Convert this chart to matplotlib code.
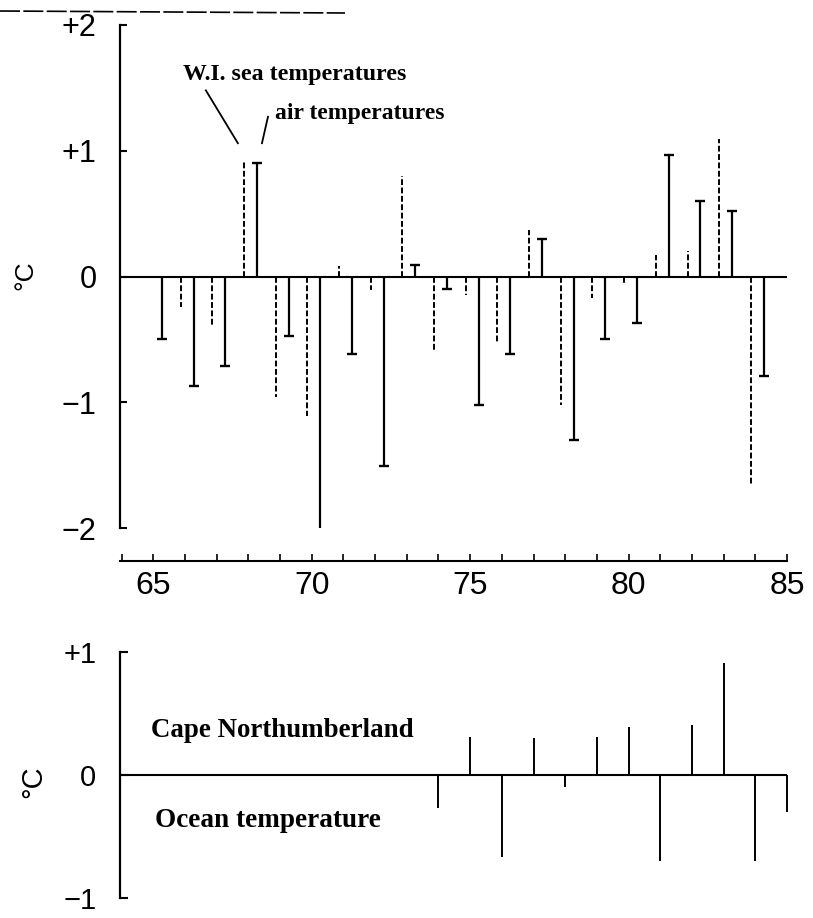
import numpy as np
import matplotlib
matplotlib.use("Agg")
import matplotlib.pyplot as plt
from matplotlib.lines import Line2D
from matplotlib.ticker import MultipleLocator, FixedLocator

# top panel: anomalies, West Iceland sea (dashed) and air (solid)
years = [65, 66, 67, 68, 69, 70, 71, 72, 73, 74,
         75, 76, 77, 78, 79, 80, 81, 82, 83, 84]
sea_anom = [np.nan, -0.24, -0.39, 0.92, -0.96, -1.11, 0.08, -0.11, 0.80, -0.59,
            -0.15, -0.52, 0.37, -1.02, -0.17, -0.07, 0.17, 0.20, 1.09, -1.66]
air_anom = [-0.50, -0.87, -0.71, 0.90, -0.47, -2.02, -0.62, -1.51, 0.09, -0.10,
            -1.02, -0.62, 0.30, -1.30, -0.50, -0.37, 0.97, 0.60, 0.52, -0.79]

# bottom panel: Cape Northumberland ocean temperature
cape_years = [74, 75, 76, 77, 78, 79, 80, 81, 82, 83, 84, 85]
cape_anom = [-0.27, 0.31, -0.67, 0.30, -0.10, 0.31, 0.39, -0.70, 0.41, 0.91, -0.70, -0.30]

top_ticks = [2, 1, 0, -1, -2]
top_ticklabels = ["+2", "+1", "0", "\u22121", "\u22122"]
bot_ticks = [1, 0, -1]
bot_ticklabels = ["+1", "0", "\u22121"]

SEA_SHIFT = -0.14
AIR_SHIFT = 0.27
XMIN, XMAX = 63.95, 85.0

sans = ["Liberation Sans", "DejaVu Sans"]
serif = ["Liberation Serif", "DejaVu Serif"]

fig = plt.figure(figsize=(8.13, 9.18), dpi=100)
W, H = 813, 918


def px_axes(x0, y0, x1, y1):
    return fig.add_axes([x0 / W, 1 - y1 / H, (x1 - x0) / W, (y1 - y0) / H])


# ---------- top panel ----------
ax = px_axes(120, 25, 787, 528)
ax.set_xlim(XMIN, XMAX)
ax.set_ylim(-2, 2)

yrs = np.array(years, dtype=float)
ax.vlines(yrs + SEA_SHIFT, 0, sea_anom, colors="black", lw=1.4,
          linestyles=(0, (3, 1.3)))
ax.vlines(yrs + AIR_SHIFT, 0, air_anom, colors="black", lw=1.6)
ax.plot(yrs + AIR_SHIFT, air_anom, ls="none", marker="_", ms=6.5,
        mew=1.7, color="black")
ax.axhline(0, color="black", lw=1.5)

for s in ["top", "right"]:
    ax.spines[s].set_visible(False)
ax.spines["left"].set_linewidth(1.6)
ax.spines["left"].set_bounds(-2, 2)
ax.spines["bottom"].set_linewidth(1.5)
ax.spines["bottom"].set_position(("outward", 24))
ax.spines["bottom"].set_bounds(XMIN, XMAX)

ax.yaxis.set_major_locator(FixedLocator(top_ticks))
ax.set_yticklabels(top_ticklabels, fontfamily=sans, fontsize=22)
ax.tick_params(axis="y", direction="in", length=5, width=1.5, pad=17)

ax.xaxis.set_major_locator(MultipleLocator(5))
ax.xaxis.set_minor_locator(MultipleLocator(1))
ax.tick_params(axis="x", which="both", direction="in", length=5, width=1.2, pad=7)
for lab in ax.get_xticklabels():
    lab.set_fontfamily(sans)
    lab.set_fontsize(23)

ax.text(-0.142, 0.503, "\u00b0C", rotation=90, ha="center", va="center",
        transform=ax.transAxes, fontfamily=sans, fontsize=19)

ax.text(65.94, 1.61, "W.I. sea temperatures", ha="left", va="center",
        fontfamily=serif, fontweight="bold", fontsize=17.2)
ax.text(68.84, 1.30, "air temperatures", ha="left", va="center",
        fontfamily=serif, fontweight="bold", fontsize=17)
ax.plot([66.66, 67.67], [1.48, 1.06], color="black", lw=1.3)
ax.plot([68.62, 68.43], [1.27, 1.06], color="black", lw=1.3)

# ---------- bottom panel ----------
bx = px_axes(120, 652, 787, 898)
bx.set_xlim(XMIN, XMAX)
bx.set_ylim(-1, 1)
bx.vlines(cape_years, 0, cape_anom, colors="black", lw=1.4)
bx.axhline(0, color="black", lw=1.5)
for s in ["top", "right", "bottom"]:
    bx.spines[s].set_visible(False)
bx.spines["left"].set_linewidth(1.6)
bx.set_xticks([])
bx.yaxis.set_major_locator(FixedLocator(bot_ticks))
bx.set_yticklabels(bot_ticklabels, fontfamily=sans, fontsize=21)
bx.tick_params(axis="y", direction="in", length=6, width=1.5, pad=17)
for c in bx.collections:
    c.set_clip_on(False)

bx.text(-0.13, 0.474, "\u00b0C", rotation=90, ha="center", va="center",
        transform=bx.transAxes, fontfamily=sans, fontsize=21)
bx.text(64.93, 0.36, "Cape Northumberland", ha="left", va="center",
        fontfamily=serif, fontweight="bold", fontsize=19.4)
bx.text(65.05, -0.37, "Ocean temperature", ha="left", va="center",
        fontfamily=serif, fontweight="bold", fontsize=19.6)

# scanned page edge at the top
fig.add_artist(Line2D([0, 345 / W], [1 - 11 / H, 1 - 13 / H], color="black",
                      lw=1.2, ls=(0, (12, 2))))

fig.savefig("out.png", dpi=100)
